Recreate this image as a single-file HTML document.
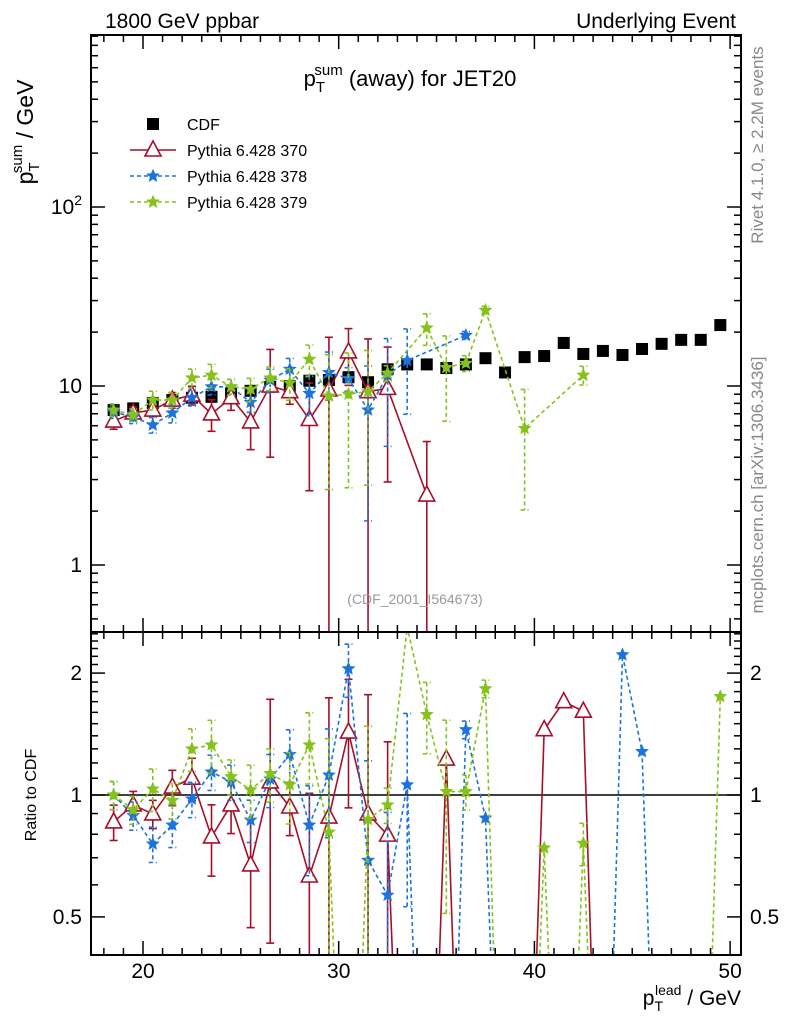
<!DOCTYPE html>
<html><head><meta charset="utf-8"><style>
html,body{margin:0;padding:0;background:#fff;overflow:hidden;width:786px;height:1024px;}
svg{font-family:"Liberation Sans",sans-serif;display:block;}
</style></head><body>
<svg id="c" width="786" height="1024" viewBox="0 0 786 1024" xmlns="http://www.w3.org/2000/svg">
<defs>
<clipPath id="cm"><rect x="91" y="35" width="650" height="597"/></clipPath>
<clipPath id="cr"><rect x="91" y="632" width="650" height="323"/></clipPath>
</defs>
<g id="axes"></g>
<g id="main" clip-path="url(#cm)"></g>
<g id="ratio" clip-path="url(#cr)"></g>
<rect x="91" y="35" width="650" height="597" fill="none" stroke="#000" stroke-width="2"/>
<rect x="91" y="632" width="650" height="323" fill="none" stroke="#000" stroke-width="2"/>
<text x="105" y="28" font-size="21">1800 GeV ppbar</text>
<text x="736" y="28" font-size="21" text-anchor="end">Underlying Event</text>
<text x="410" y="86" font-size="22" text-anchor="middle">p<tspan font-size="15" dy="6">T</tspan><tspan font-size="15" dx="-9" dy="-17">sum</tspan><tspan dy="11"> (away) for JET20</tspan></text>
<text transform="translate(33,132) rotate(-90)" font-size="23" text-anchor="middle">p<tspan font-size="15" dy="6">T</tspan><tspan font-size="15" dx="-9" dy="-17">sum</tspan><tspan dy="11"> / GeV</tspan></text>
<text transform="translate(36,795) rotate(-90)" font-size="16" text-anchor="middle">Ratio to CDF</text>
<text x="741" y="1005" font-size="21" text-anchor="end">p<tspan font-size="14" dy="6">T</tspan><tspan font-size="14" dx="-8" dy="-16">lead</tspan><tspan dy="10"> / GeV</tspan></text>
<text transform="translate(763,145) rotate(-90)" font-size="17" fill="#888" text-anchor="middle">Rivet 4.1.0, ≥ 2.2M events</text>
<text transform="translate(763,485) rotate(-90)" font-size="17" fill="#888" text-anchor="middle">mcplots.cern.ch [arXiv:1306.3436]</text>
<text x="415" y="604" font-size="14" fill="#999" text-anchor="middle">(CDF_2001_I564673)</text>
<g id="legend"></g>
</svg>
<script>
const xs = [18.5,19.5,20.5,21.5,22.5,23.5,24.5,25.5,26.5,27.5,28.5,29.5,30.5,31.5,32.5,33.5,34.5,35.5,36.5,37.5,38.5,39.5,40.5,41.5,42.5,43.5,44.5,45.5,46.5,47.5,48.5,49.5];
const cdf = [7.34,7.5,8.04,8.35,8.6,8.7,9.1,9.4,9.9,10,10.7,10.8,11.2,10.5,12.4,13.2,13.2,12.6,13.2,14.3,11.9,14.5,14.7,17.4,15.1,15.7,14.9,16.1,17.2,18.1,18.1,21.9];
const p370 = [6.37,7.07,7.34,8.35,8.9,6.98,8.6,6.3,10,9.3,6.5,9.5,15.5,9.3,9.7,null,2.46];
const e370 = [0.1,0.08,0.08,0.1,0.12,0.2,0.15,0.3,0.6,0.15,0.6,0.97,0.35,0.97,0.7,null,0.99];
const p378 = [7.17,6.7,6.06,7.07,8.6,9.9,9.9,8.1,10.8,12.4,9.1,11.9,11,7.35,11.5,13.9,null,null,19.2];
const e378 = [0.08,0.08,0.1,0.12,0.1,0.1,0.1,0.12,0.15,0.15,0.25,0.3,0.15,0.76,0.6,0.5,null,null,0.05];
const p379 = [7.35,6.9,8.35,8.35,11.1,11.5,9.9,9.6,11.1,10.4,14.1,8.8,9.0,9.3,11.8,null,21.1,12.7,13.4,26.5,null,5.8,null,null,11.5];
const e379 = [0.08,0.08,0.12,0.1,0.12,0.15,0.1,0.15,0.15,0.2,0.2,0.7,0.7,0.7,0.1,null,0.2,0.5,0.1,0.05,null,0.65,null,null,0.12];
const r370 = [0.858,0.945,0.898,1.046,1.10,0.788,0.945,0.672,1.077,0.934,0.631,0.882,1.43,0.898,0.796,0,0,1.227,0,0,0,0,1.45,1.70,1.61,0];
const r378 = [1.0,0.89,0.757,0.843,0.977,1.14,1.077,0.867,1.095,1.26,0.843,1.12,2.05,0.69,0.566,1.06,0,0,1.45,0.877,0,0,0,0,0,0,2.22,1.28,0];
const r379 = [1.0,0.92,1.035,0.97,1.30,1.33,1.11,1.03,1.13,1.06,1.33,0.81,0,0.87,0.945,2.6,1.58,1.02,1.02,1.83,0,0,0.74,0,0.76,0,0,0,0,0,0,1.75];
const yMajMain = [1,10,100];
const yMajRat = [0.5,1,2];
const xMaj = [20,30,40,50];

const NS='http://www.w3.org/2000/svg';
const X=v=>143+(v-20)*19.57;
const YM=v=>565-179*Math.log10(v);
const YR=v=>795-405*Math.log10(Math.max(v,0.05));
function mk(tag,attrs,parent){const e=document.createElementNS(NS,tag);for(const k in attrs)e.setAttribute(k,attrs[k]);parent.appendChild(e);return e;}
const axes=document.getElementById('axes');
const gm=document.getElementById('main');
const gr=document.getElementById('ratio');
const leg=document.getElementById('legend');

for(let v=18;v<=50;v++){
  const maj=xMaj.includes(v);const L=maj?14:7;const x=X(v);
  [[35,35+L],[632,632-L],[632,632+L],[955,955-L]].forEach(([a,b])=>{
    const t=mk('line',{x1:x,x2:x,y1:a,y2:b,stroke:'#000','stroke-width':1.5},axes);
    
    
  });
}
xMaj.forEach(v=>{const t=mk('text',{x:X(v),y:978,'font-size':21,'text-anchor':'middle'},axes);t.textContent=v;
  
  });
for(let d=-1;d<=2;d++)for(let m=1;m<=9;m++){
  const v=m*Math.pow(10,d);const y=YM(v);if(y<35||y>632)continue;const L=m==1?14:7;
  [[91,91+L],[741,741-L]].forEach(([a,b])=>{const t=mk('line',{x1:a,x2:b,y1:y,y2:y,stroke:'#000','stroke-width':1.5},axes);
    
    });
}
yMajMain.forEach(v=>{const t=mk('text',{x:82,y:YM(v)+7,'font-size':21,'text-anchor':'end'},axes);
  if(v==100){t.textContent='10';const s=mk('tspan',{'font-size':14,dy:-9},t);s.textContent='2';}else t.textContent=v;
  
  });
for(let i=4;i<=25;i++){const v=i/10;const y=YR(v);if(y<632||y>955)continue;const maj=yMajRat.includes(v);const L=maj?14:7;
  [[91,91+L],[741,741-L]].forEach(([a,b])=>{const t=mk('line',{x1:a,x2:b,y1:y,y2:y,stroke:'#000','stroke-width':1.5},axes);
    
    });}
yMajRat.forEach(v=>{[[82,'end'],[750,'start']].forEach(([x,a])=>{const t=mk('text',{x:x,y:YR(v)+7,'font-size':21,'text-anchor':a},axes);t.textContent=v;
  
  });});
const one=mk('line',{x1:91,x2:741,y1:YR(1),y2:YR(1),stroke:'#000','stroke-width':1.5},gr);



function star(cx,cy,r,col,parent){let p='';for(let i=0;i<10;i++){const rr=i%2?r*0.45:r;const a=-Math.PI/2+i*Math.PI/5;p+=(i?'L':'M')+(cx+rr*Math.cos(a)).toFixed(1)+','+(cy+rr*Math.sin(a)).toFixed(1);}
  return mk('path',{d:p+'Z',fill:col,stroke:col,'stroke-width':1},parent);}
function tri(cx,cy,col,parent){return mk('path',{d:`M${cx},${cy-9}L${cx+8},${cy+6}L${cx-8},${cy+6}Z`,fill:'#fff',stroke:col,'stroke-width':1.6},parent);}
function drawSeries(vals,errs,col,dash,kind,Y,parent,name){
  const pts=[];vals.forEach((v,i)=>{if(v===null||v===undefined)return;pts.push([X(xs[i]),Y(v),v,i]);});
  const pl=mk('polyline',{points:pts.map(p=>p[0]+','+p[1]).join(' '),fill:'none',stroke:col,'stroke-width':1.6,'stroke-dasharray':dash},parent);
  
  
  pts.forEach(([x,y,v,i])=>{
    if(v<=0)return;
    const e=errs?errs[i]:null;
    if(e){const hi=Y(v*(1+e)),lo=Y(v*Math.max(1-e,0.01));
      const g=mk('g',{stroke:col,'stroke-width':1.6,'stroke-dasharray':dash},parent);
      
      
      mk('line',{x1:x,x2:x,y1:hi,y2:lo},g);mk('line',{x1:x-4,x2:x+4,y1:hi,y2:hi,'stroke-dasharray':''},g);mk('line',{x1:x-4,x2:x+4,y1:lo,y2:lo,'stroke-dasharray':''},g);}
    const m=kind=='tri'?tri(x,y,col,parent):star(x,y,6,col,parent);
    
    
  });
}
cdf.forEach((v,i)=>{const r=mk('rect',{x:X(xs[i])-6,y:YM(v)-6,width:12,height:12,fill:'#000'},gm);
  
  });
drawSeries(p370,e370,'#a50f2a','','tri',YM,gm,'pythia-370');
drawSeries(p378,e378,'#1c73dd','4,3','star',YM,gm,'pythia-378');
drawSeries(p379,e379,'#86c21b','4,3','star',YM,gm,'pythia-379');
drawSeries(r370,e370,'#a50f2a','','tri',YR,gr,'ratio-370');
drawSeries(r378,e378,'#1c73dd','4,3','star',YR,gr,'ratio-378');
drawSeries(r379,e379,'#86c21b','4,3','star',YR,gr,'ratio-379');

const items=[['CDF','#000','','sq'],['Pythia 6.428 370','#a50f2a','','tri'],['Pythia 6.428 378','#1c73dd','4,3','star'],['Pythia 6.428 379','#86c21b','4,3','star']];
items.forEach(([lab,col,dash,k],i)=>{const y=124+i*26;
  const g=mk('g',{},leg);
  
  
  if(k=='sq')mk('rect',{x:147,y:y-6,width:12,height:12,fill:'#000'},g);
  else{mk('line',{x1:130,x2:176,y1:y,y2:y,stroke:col,'stroke-width':1.6,'stroke-dasharray':dash},g);
    if(k=='tri')tri(153,y,col,g);else star(153,y,6,col,g);}
  const t=mk('text',{x:187,y:y+6,'font-size':16},g);t.textContent=lab;});
</script>
</body></html>
